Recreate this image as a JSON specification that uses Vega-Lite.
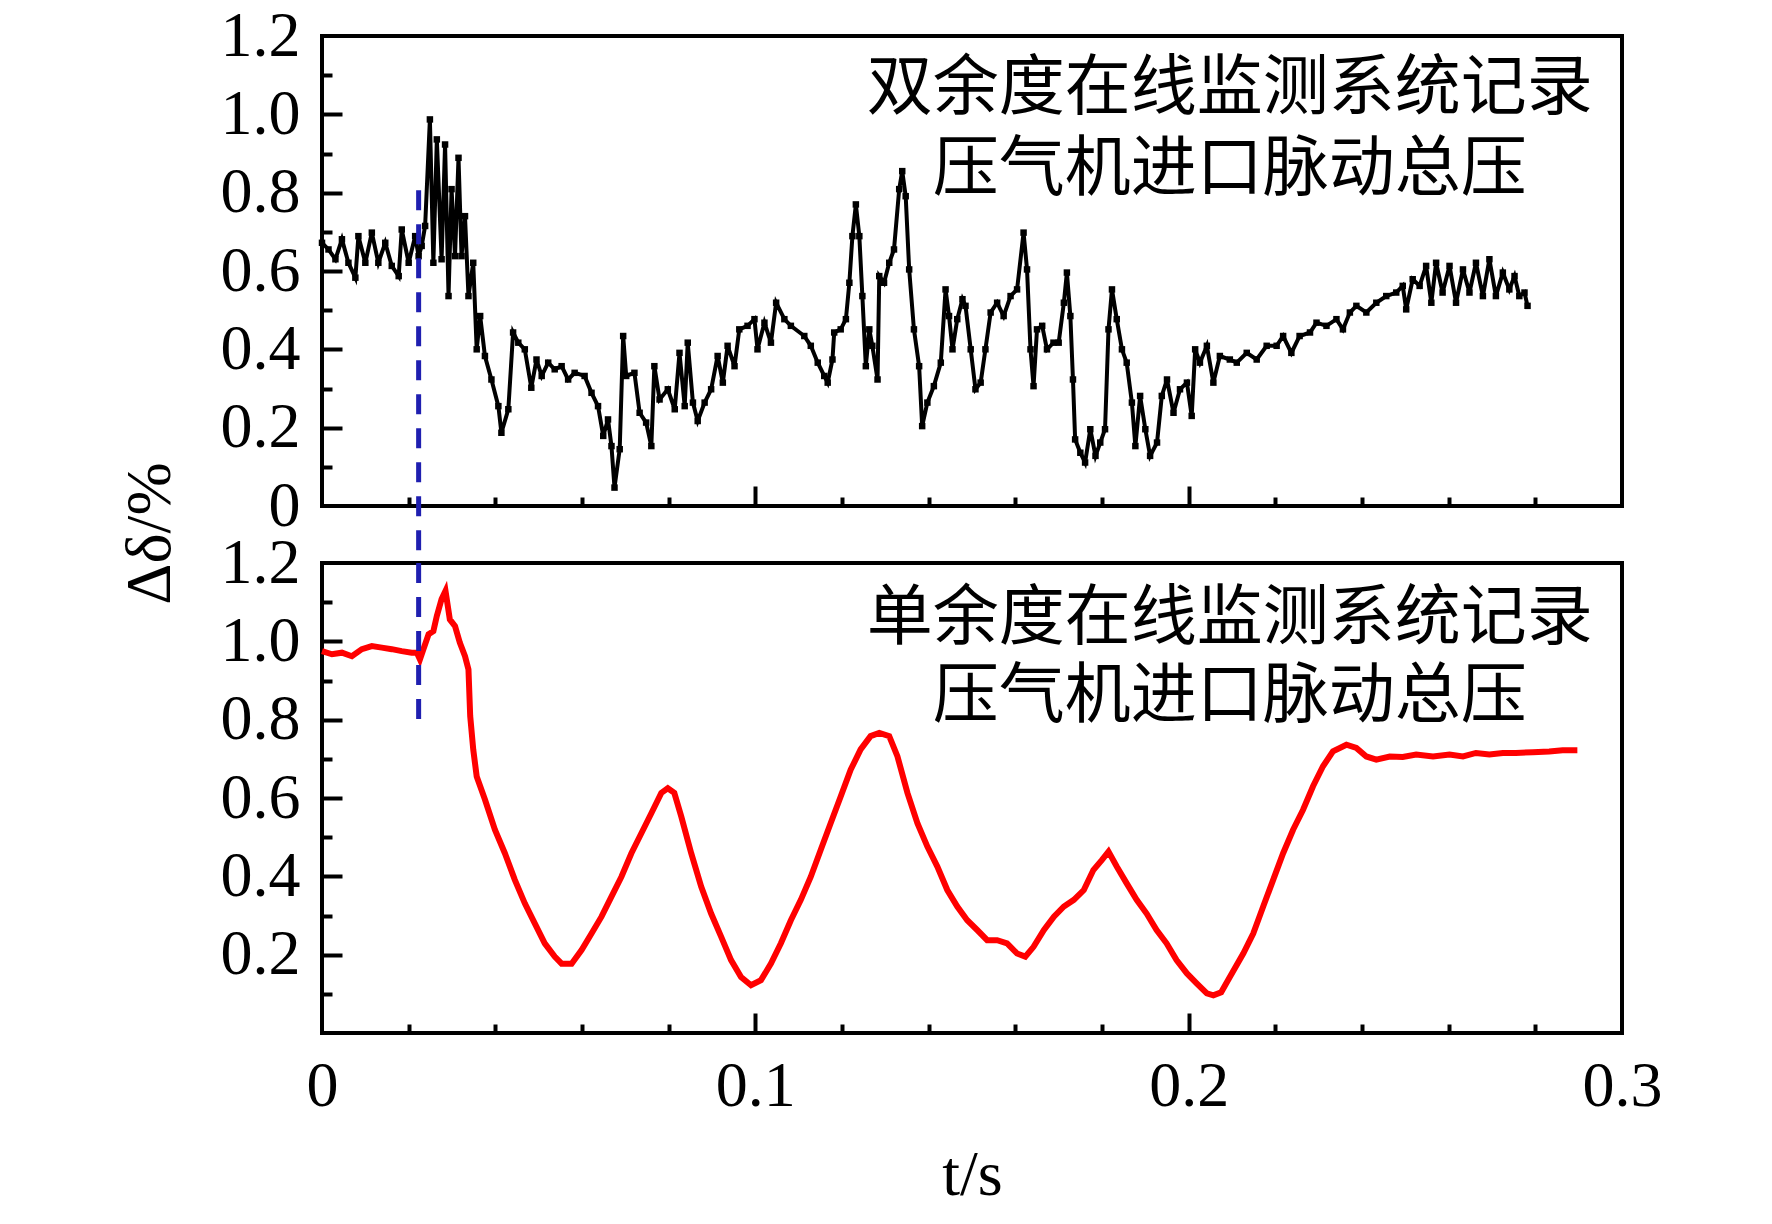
{
  "$schema": "https://vega.github.io/schema/vega-lite/v6.json",
  "background": "white",
  "padding": {"left": 116, "top": 2, "right": 0, "bottom": 0},
  "bounds": "flush",
  "spacing": 57,
  "config": {
    "font": "Liberation Serif",
    "view": {"stroke": "black", "strokeWidth": 4},
    "axis": {
      "grid": false,
      "domain": false,
      "labelFont": "Liberation Serif",
      "labelFontSize": 64,
      "labelColor": "black",
      "labelFlush": false,
      "labelOverlap": false,
      "tickColor": "black",
      "tickWidth": 4,
      "titleFont": "Liberation Serif",
      "titleFontSize": 64,
      "titleFontWeight": "normal",
      "titleColor": "black"
    }
  },
  "datasets": {
    "dual": [
      {"t": 0, "v": 0.672}, {"t": 0.0015, "v": 0.655}, {"t": 0.0031, "v": 0.63}, {"t": 0.0046, "v": 0.681},
      {"t": 0.0061, "v": 0.621}, {"t": 0.0077, "v": 0.583}, {"t": 0.0084, "v": 0.689}, {"t": 0.01, "v": 0.621},
      {"t": 0.0115, "v": 0.698}, {"t": 0.013, "v": 0.621}, {"t": 0.0146, "v": 0.672}, {"t": 0.0161, "v": 0.613},
      {"t": 0.0177, "v": 0.587}, {"t": 0.0184, "v": 0.706}, {"t": 0.02, "v": 0.621}, {"t": 0.0215, "v": 0.689},
      {"t": 0.0223, "v": 0.638}, {"t": 0.023, "v": 0.664}, {"t": 0.0238, "v": 0.715}, {"t": 0.0249, "v": 0.987},
      {"t": 0.0257, "v": 0.621}, {"t": 0.0265, "v": 0.936}, {"t": 0.0276, "v": 0.63}, {"t": 0.0284, "v": 0.923},
      {"t": 0.0292, "v": 0.536}, {"t": 0.0299, "v": 0.809}, {"t": 0.0307, "v": 0.638}, {"t": 0.0315, "v": 0.889},
      {"t": 0.0322, "v": 0.638}, {"t": 0.033, "v": 0.74}, {"t": 0.0338, "v": 0.536}, {"t": 0.0349, "v": 0.621},
      {"t": 0.0357, "v": 0.4}, {"t": 0.0365, "v": 0.485}, {"t": 0.0376, "v": 0.383}, {"t": 0.0391, "v": 0.323},
      {"t": 0.0407, "v": 0.255}, {"t": 0.0414, "v": 0.187}, {"t": 0.043, "v": 0.247}, {"t": 0.0441, "v": 0.443},
      {"t": 0.0453, "v": 0.417}, {"t": 0.0468, "v": 0.4}, {"t": 0.0483, "v": 0.302}, {"t": 0.0495, "v": 0.374},
      {"t": 0.0507, "v": 0.332}, {"t": 0.0522, "v": 0.366}, {"t": 0.0537, "v": 0.349}, {"t": 0.0553, "v": 0.357},
      {"t": 0.0568, "v": 0.323}, {"t": 0.0583, "v": 0.34}, {"t": 0.0606, "v": 0.332}, {"t": 0.0622, "v": 0.289},
      {"t": 0.0637, "v": 0.255}, {"t": 0.0649, "v": 0.179}, {"t": 0.066, "v": 0.221}, {"t": 0.0668, "v": 0.153},
      {"t": 0.0675, "v": 0.047}, {"t": 0.0687, "v": 0.145}, {"t": 0.0695, "v": 0.434}, {"t": 0.0702, "v": 0.332},
      {"t": 0.0721, "v": 0.34}, {"t": 0.0733, "v": 0.238}, {"t": 0.0748, "v": 0.213}, {"t": 0.076, "v": 0.153},
      {"t": 0.0767, "v": 0.357}, {"t": 0.0779, "v": 0.272}, {"t": 0.0798, "v": 0.298}, {"t": 0.0814, "v": 0.247},
      {"t": 0.0825, "v": 0.391}, {"t": 0.0837, "v": 0.255}, {"t": 0.0844, "v": 0.417}, {"t": 0.0856, "v": 0.264},
      {"t": 0.0867, "v": 0.217}, {"t": 0.0883, "v": 0.264}, {"t": 0.0898, "v": 0.298}, {"t": 0.0913, "v": 0.383},
      {"t": 0.0925, "v": 0.315}, {"t": 0.0936, "v": 0.409}, {"t": 0.0952, "v": 0.357}, {"t": 0.0963, "v": 0.451},
      {"t": 0.0982, "v": 0.46}, {"t": 0.0998, "v": 0.477}, {"t": 0.1005, "v": 0.4}, {"t": 0.1021, "v": 0.468},
      {"t": 0.1036, "v": 0.417}, {"t": 0.1048, "v": 0.519}, {"t": 0.1067, "v": 0.477}, {"t": 0.1082, "v": 0.46},
      {"t": 0.1113, "v": 0.434}, {"t": 0.1128, "v": 0.409}, {"t": 0.1144, "v": 0.366}, {"t": 0.1159, "v": 0.332},
      {"t": 0.1167, "v": 0.315}, {"t": 0.1178, "v": 0.374}, {"t": 0.1182, "v": 0.443}, {"t": 0.1197, "v": 0.451},
      {"t": 0.1209, "v": 0.477}, {"t": 0.1217, "v": 0.57}, {"t": 0.1224, "v": 0.689}, {"t": 0.1232, "v": 0.77},
      {"t": 0.124, "v": 0.689}, {"t": 0.1247, "v": 0.536}, {"t": 0.1255, "v": 0.357}, {"t": 0.1263, "v": 0.451},
      {"t": 0.127, "v": 0.409}, {"t": 0.1282, "v": 0.323}, {"t": 0.1286, "v": 0.587}, {"t": 0.1297, "v": 0.57},
      {"t": 0.1309, "v": 0.621}, {"t": 0.132, "v": 0.655}, {"t": 0.1332, "v": 0.809}, {"t": 0.1339, "v": 0.855},
      {"t": 0.1347, "v": 0.791}, {"t": 0.1355, "v": 0.604}, {"t": 0.1366, "v": 0.451}, {"t": 0.1378, "v": 0.357},
      {"t": 0.1385, "v": 0.204}, {"t": 0.1397, "v": 0.264}, {"t": 0.1412, "v": 0.306}, {"t": 0.1428, "v": 0.366},
      {"t": 0.1439, "v": 0.553}, {"t": 0.1447, "v": 0.485}, {"t": 0.1455, "v": 0.4}, {"t": 0.1466, "v": 0.477},
      {"t": 0.1478, "v": 0.528}, {"t": 0.1485, "v": 0.511}, {"t": 0.1497, "v": 0.4}, {"t": 0.1508, "v": 0.298},
      {"t": 0.152, "v": 0.315}, {"t": 0.1531, "v": 0.4}, {"t": 0.1543, "v": 0.494}, {"t": 0.1558, "v": 0.519},
      {"t": 0.1573, "v": 0.485}, {"t": 0.1589, "v": 0.536}, {"t": 0.1604, "v": 0.553}, {"t": 0.1619, "v": 0.698},
      {"t": 0.1627, "v": 0.604}, {"t": 0.1635, "v": 0.4}, {"t": 0.1642, "v": 0.306}, {"t": 0.165, "v": 0.451},
      {"t": 0.1662, "v": 0.46}, {"t": 0.1673, "v": 0.4}, {"t": 0.1688, "v": 0.417}, {"t": 0.17, "v": 0.417},
      {"t": 0.1712, "v": 0.519}, {"t": 0.1719, "v": 0.596}, {"t": 0.1727, "v": 0.485}, {"t": 0.1733, "v": 0.323},
      {"t": 0.1738, "v": 0.17}, {"t": 0.175, "v": 0.136}, {"t": 0.1761, "v": 0.111}, {"t": 0.1773, "v": 0.196},
      {"t": 0.1785, "v": 0.128}, {"t": 0.1796, "v": 0.162}, {"t": 0.1807, "v": 0.196}, {"t": 0.1815, "v": 0.451},
      {"t": 0.1823, "v": 0.553}, {"t": 0.1834, "v": 0.477}, {"t": 0.1846, "v": 0.4}, {"t": 0.1857, "v": 0.366},
      {"t": 0.1869, "v": 0.264}, {"t": 0.1877, "v": 0.153}, {"t": 0.1888, "v": 0.281}, {"t": 0.19, "v": 0.196},
      {"t": 0.1911, "v": 0.128}, {"t": 0.1927, "v": 0.162}, {"t": 0.1938, "v": 0.281}, {"t": 0.195, "v": 0.323},
      {"t": 0.1965, "v": 0.238}, {"t": 0.198, "v": 0.298}, {"t": 0.1996, "v": 0.315}, {"t": 0.2007, "v": 0.23},
      {"t": 0.2015, "v": 0.4}, {"t": 0.2026, "v": 0.366}, {"t": 0.2042, "v": 0.409}, {"t": 0.2057, "v": 0.315},
      {"t": 0.2072, "v": 0.383}, {"t": 0.2095, "v": 0.374}, {"t": 0.2111, "v": 0.366}, {"t": 0.2134, "v": 0.391},
      {"t": 0.2157, "v": 0.374}, {"t": 0.218, "v": 0.409}, {"t": 0.2203, "v": 0.409}, {"t": 0.2218, "v": 0.434},
      {"t": 0.2237, "v": 0.391}, {"t": 0.2256, "v": 0.434}, {"t": 0.228, "v": 0.443}, {"t": 0.2295, "v": 0.468},
      {"t": 0.2318, "v": 0.46}, {"t": 0.2341, "v": 0.477}, {"t": 0.2356, "v": 0.451}, {"t": 0.2372, "v": 0.494},
      {"t": 0.2387, "v": 0.511}, {"t": 0.241, "v": 0.494}, {"t": 0.2433, "v": 0.519}, {"t": 0.2456, "v": 0.536},
      {"t": 0.2479, "v": 0.545}, {"t": 0.2494, "v": 0.562}, {"t": 0.2502, "v": 0.502}, {"t": 0.2517, "v": 0.579},
      {"t": 0.2533, "v": 0.562}, {"t": 0.2548, "v": 0.613}, {"t": 0.256, "v": 0.519}, {"t": 0.2571, "v": 0.621},
      {"t": 0.2586, "v": 0.545}, {"t": 0.2602, "v": 0.613}, {"t": 0.2617, "v": 0.519}, {"t": 0.2633, "v": 0.604},
      {"t": 0.2648, "v": 0.545}, {"t": 0.2663, "v": 0.621}, {"t": 0.2679, "v": 0.536}, {"t": 0.2694, "v": 0.63},
      {"t": 0.2709, "v": 0.536}, {"t": 0.2725, "v": 0.596}, {"t": 0.274, "v": 0.553}, {"t": 0.2752, "v": 0.587},
      {"t": 0.2763, "v": 0.536}, {"t": 0.2775, "v": 0.545}, {"t": 0.2782, "v": 0.511}
    ],
    "single": [
      {"t": 0, "v": 0.975}, {"t": 0.0023, "v": 0.967}, {"t": 0.0046, "v": 0.971}, {"t": 0.0069, "v": 0.962},
      {"t": 0.0092, "v": 0.98}, {"t": 0.0115, "v": 0.988}, {"t": 0.0138, "v": 0.984}, {"t": 0.0161, "v": 0.98},
      {"t": 0.0184, "v": 0.975}, {"t": 0.0207, "v": 0.971}, {"t": 0.0219, "v": 0.971}, {"t": 0.0226, "v": 0.954},
      {"t": 0.0234, "v": 0.98}, {"t": 0.0246, "v": 1.018}, {"t": 0.0257, "v": 1.026}, {"t": 0.0265, "v": 1.065},
      {"t": 0.0276, "v": 1.108}, {"t": 0.0285, "v": 1.129}, {"t": 0.0295, "v": 1.056}, {"t": 0.0307, "v": 1.039},
      {"t": 0.0318, "v": 0.997}, {"t": 0.033, "v": 0.962}, {"t": 0.0338, "v": 0.928}, {"t": 0.0342, "v": 0.809},
      {"t": 0.0349, "v": 0.724}, {"t": 0.0357, "v": 0.655}, {"t": 0.0376, "v": 0.596}, {"t": 0.0399, "v": 0.519},
      {"t": 0.0422, "v": 0.459}, {"t": 0.0445, "v": 0.391}, {"t": 0.0468, "v": 0.331}, {"t": 0.0491, "v": 0.28},
      {"t": 0.0514, "v": 0.229}, {"t": 0.0537, "v": 0.195}, {"t": 0.0553, "v": 0.177}, {"t": 0.0576, "v": 0.177},
      {"t": 0.0599, "v": 0.212}, {"t": 0.0622, "v": 0.254}, {"t": 0.0645, "v": 0.297}, {"t": 0.0668, "v": 0.348},
      {"t": 0.0691, "v": 0.399}, {"t": 0.0714, "v": 0.459}, {"t": 0.0737, "v": 0.51}, {"t": 0.076, "v": 0.561},
      {"t": 0.0783, "v": 0.613}, {"t": 0.0798, "v": 0.625}, {"t": 0.0813, "v": 0.613}, {"t": 0.0829, "v": 0.553},
      {"t": 0.0852, "v": 0.459}, {"t": 0.0875, "v": 0.374}, {"t": 0.0898, "v": 0.305}, {"t": 0.0921, "v": 0.246},
      {"t": 0.0944, "v": 0.186}, {"t": 0.0967, "v": 0.143}, {"t": 0.099, "v": 0.122}, {"t": 0.1013, "v": 0.135},
      {"t": 0.1036, "v": 0.177}, {"t": 0.1059, "v": 0.229}, {"t": 0.1082, "v": 0.288}, {"t": 0.1105, "v": 0.34},
      {"t": 0.1128, "v": 0.399}, {"t": 0.1151, "v": 0.468}, {"t": 0.1174, "v": 0.536}, {"t": 0.1197, "v": 0.604},
      {"t": 0.122, "v": 0.672}, {"t": 0.1243, "v": 0.724}, {"t": 0.1266, "v": 0.758}, {"t": 0.1286, "v": 0.766},
      {"t": 0.1309, "v": 0.758}, {"t": 0.1328, "v": 0.706}, {"t": 0.1351, "v": 0.613}, {"t": 0.1374, "v": 0.536},
      {"t": 0.1397, "v": 0.476}, {"t": 0.142, "v": 0.425}, {"t": 0.1443, "v": 0.365}, {"t": 0.1466, "v": 0.323},
      {"t": 0.1489, "v": 0.288}, {"t": 0.1512, "v": 0.263}, {"t": 0.1535, "v": 0.237}, {"t": 0.1558, "v": 0.237},
      {"t": 0.1581, "v": 0.229}, {"t": 0.1604, "v": 0.203}, {"t": 0.1623, "v": 0.195}, {"t": 0.1642, "v": 0.22},
      {"t": 0.1666, "v": 0.263}, {"t": 0.1689, "v": 0.297}, {"t": 0.1712, "v": 0.323}, {"t": 0.1735, "v": 0.34},
      {"t": 0.1758, "v": 0.365}, {"t": 0.178, "v": 0.416}, {"t": 0.18, "v": 0.442}, {"t": 0.1815, "v": 0.463},
      {"t": 0.1834, "v": 0.425}, {"t": 0.1857, "v": 0.382}, {"t": 0.188, "v": 0.34}, {"t": 0.1903, "v": 0.305},
      {"t": 0.1926, "v": 0.263}, {"t": 0.1949, "v": 0.229}, {"t": 0.1972, "v": 0.186}, {"t": 0.1996, "v": 0.152},
      {"t": 0.2019, "v": 0.126}, {"t": 0.2042, "v": 0.101}, {"t": 0.2057, "v": 0.096}, {"t": 0.2075, "v": 0.104},
      {"t": 0.2095, "v": 0.143}, {"t": 0.2126, "v": 0.203}, {"t": 0.2149, "v": 0.254}, {"t": 0.2172, "v": 0.323},
      {"t": 0.2195, "v": 0.391}, {"t": 0.2218, "v": 0.459}, {"t": 0.2241, "v": 0.519}, {"t": 0.2264, "v": 0.57},
      {"t": 0.2287, "v": 0.63}, {"t": 0.231, "v": 0.681}, {"t": 0.2333, "v": 0.719}, {"t": 0.2364, "v": 0.736},
      {"t": 0.2387, "v": 0.728}, {"t": 0.241, "v": 0.706}, {"t": 0.2433, "v": 0.698}, {"t": 0.2464, "v": 0.706},
      {"t": 0.2494, "v": 0.705}, {"t": 0.2525, "v": 0.711}, {"t": 0.2564, "v": 0.706}, {"t": 0.2602, "v": 0.711},
      {"t": 0.2633, "v": 0.706}, {"t": 0.2663, "v": 0.715}, {"t": 0.2694, "v": 0.711}, {"t": 0.2725, "v": 0.715},
      {"t": 0.2755, "v": 0.715}, {"t": 0.2794, "v": 0.717}, {"t": 0.2832, "v": 0.719}, {"t": 0.2863, "v": 0.722},
      {"t": 0.2897, "v": 0.722}
    ]
  },
  "vconcat": [
    {
      "width": 1300,
      "height": 470,
      "resolve": {"axis": {"x": "independent", "y": "independent"}},
      "layer": [
        {
          "data": {"name": "dual"},
          "mark": {
            "type": "line",
            "color": "black",
            "strokeWidth": 4,
            "point": {"shape": "square", "size": 42, "filled": true, "color": "black"}
          },
          "encoding": {
            "x": {
              "field": "t", "type": "quantitative",
              "scale": {"domain": [0, 0.3], "nice": false, "zero": false},
              "axis": {"orient": "bottom", "values": [0.1, 0.2], "tickSize": -20, "labels": false, "title": null}
            },
            "y": {
              "field": "v", "type": "quantitative",
              "scale": {"domain": [0, 1.2], "nice": false, "zero": false},
              "axis": {
                "orient": "left", "values": [0, 0.2, 0.4, 0.6, 0.8, 1.0, 1.2], "ticks": false, "labelPadding": 22,
                "labelExpr": "datum.value == 0 ? '0' : format(datum.value, '.1f')",
                "title": "Δδ/%", "titleAngle": -90, "titleX": -172, "titleY": 497,
                "titleAlign": "center", "titleBaseline": "middle"
              }
            }
          }
        },
        {
          "data": {"values": [{}]},
          "mark": {"type": "rule", "color": "#1f1fb0", "strokeWidth": 5, "strokeDash": [20, 14]},
          "encoding": {
            "x": {
              "datum": 0.0223, "type": "quantitative",
              "scale": {"domain": [0, 0.3], "nice": false, "zero": false},
              "axis": {"orient": "bottom", "values": [0.02, 0.04, 0.06, 0.08, 0.12, 0.14, 0.16, 0.18, 0.22, 0.24, 0.26, 0.28], "tickSize": -9, "labels": false, "title": null}
            },
            "y": {
              "datum": 0.806, "type": "quantitative",
              "scale": {"domain": [0, 1.2], "nice": false, "zero": false},
              "axis": {"orient": "left", "values": [0.2, 0.4, 0.6, 0.8, 1.0], "tickSize": -20, "labels": false, "title": null}
            },
            "y2": {"datum": -0.1455}
          }
        },
        {
          "data": {"values": [{}]},
          "mark": {"type": "text", "font": "Noto Sans CJK SC", "fontSize": 66, "color": "black", "align": "center", "baseline": "middle"},
          "encoding": {
            "x": {"datum": 0.2095, "type": "quantitative", "scale": {"domain": [0, 0.3], "nice": false, "zero": false}, "axis": null},
            "y": {
              "datum": 1.065, "type": "quantitative",
              "scale": {"domain": [0, 1.2], "nice": false, "zero": false},
              "axis": {"orient": "left", "values": [0.1, 0.3, 0.5, 0.7, 0.9, 1.1], "tickSize": -10, "labels": false, "title": null}
            },
            "text": {"value": "双余度在线监测系统记录"}
          }
        },
        {
          "data": {"values": [{}]},
          "mark": {"type": "text", "font": "Noto Sans CJK SC", "fontSize": 66, "color": "black", "align": "center", "baseline": "middle"},
          "encoding": {
            "x": {"datum": 0.2095, "type": "quantitative", "scale": {"domain": [0, 0.3], "nice": false, "zero": false}, "axis": null},
            "y": {"datum": 0.858, "type": "quantitative", "scale": {"domain": [0, 1.2], "nice": false, "zero": false}, "axis": null},
            "text": {"value": "压气机进口脉动总压"}
          }
        }
      ]
    },
    {
      "width": 1300,
      "height": 470,
      "resolve": {"axis": {"x": "independent", "y": "independent"}},
      "layer": [
        {
          "data": {"name": "single"},
          "mark": {"type": "line", "color": "#ff0000", "strokeWidth": 6},
          "encoding": {
            "x": {
              "field": "t", "type": "quantitative",
              "scale": {"domain": [0, 0.3], "nice": false, "zero": false},
              "axis": {
                "orient": "bottom", "values": [0, 0.1, 0.2, 0.3], "ticks": false, "labelPadding": 21,
                "labelExpr": "datum.value == 0 ? '0' : format(datum.value, '.1f')",
                "title": "t/s", "titlePadding": 25
              }
            },
            "y": {
              "field": "v", "type": "quantitative",
              "scale": {"domain": [0, 1.2], "nice": false, "zero": false},
              "axis": {
                "orient": "left", "values": [0.2, 0.4, 0.6, 0.8, 1.0, 1.2], "ticks": false, "labelPadding": 22,
                "labelExpr": "format(datum.value, '.1f')", "title": null
              }
            }
          }
        },
        {
          "data": {"values": [{}]},
          "mark": {"type": "rule", "color": "#1f1fb0", "strokeWidth": 5, "strokeDash": [20, 14]},
          "encoding": {
            "x": {
              "datum": 0.0223, "type": "quantitative",
              "scale": {"domain": [0, 0.3], "nice": false, "zero": false},
              "axis": {"orient": "bottom", "values": [0.02, 0.04, 0.06, 0.08, 0.12, 0.14, 0.16, 0.18, 0.22, 0.24, 0.26, 0.28], "tickSize": -9, "labels": false, "title": null}
            },
            "y": {
              "datum": 1.2, "type": "quantitative",
              "scale": {"domain": [0, 1.2], "nice": false, "zero": false},
              "axis": {"orient": "left", "values": [0.2, 0.4, 0.6, 0.8, 1.0], "tickSize": -20, "labels": false, "title": null}
            },
            "y2": {"datum": 0.783}
          }
        },
        {
          "data": {"values": [{}]},
          "mark": {"type": "text", "font": "Noto Sans CJK SC", "fontSize": 66, "color": "black", "align": "center", "baseline": "middle"},
          "encoding": {
            "x": {
              "datum": 0.2095, "type": "quantitative",
              "scale": {"domain": [0, 0.3], "nice": false, "zero": false},
              "axis": {"orient": "bottom", "values": [0.1, 0.2], "tickSize": -20, "labels": false, "title": null}
            },
            "y": {
              "datum": 1.057, "type": "quantitative",
              "scale": {"domain": [0, 1.2], "nice": false, "zero": false},
              "axis": {"orient": "left", "values": [0.1, 0.3, 0.5, 0.7, 0.9, 1.1], "tickSize": -10, "labels": false, "title": null}
            },
            "text": {"value": "单余度在线监测系统记录"}
          }
        },
        {
          "data": {"values": [{}]},
          "mark": {"type": "text", "font": "Noto Sans CJK SC", "fontSize": 66, "color": "black", "align": "center", "baseline": "middle"},
          "encoding": {
            "x": {"datum": 0.2095, "type": "quantitative", "scale": {"domain": [0, 0.3], "nice": false, "zero": false}, "axis": null},
            "y": {"datum": 0.857, "type": "quantitative", "scale": {"domain": [0, 1.2], "nice": false, "zero": false}, "axis": null},
            "text": {"value": "压气机进口脉动总压"}
          }
        }
      ]
    }
  ]
}
